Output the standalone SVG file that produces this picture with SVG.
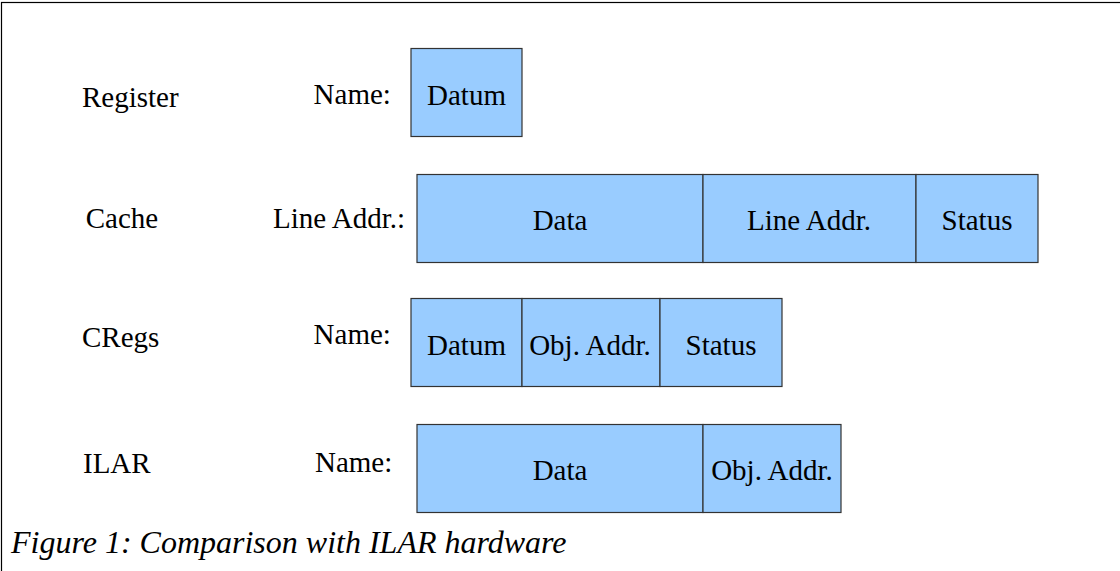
<svg xmlns="http://www.w3.org/2000/svg" width="1120" height="571" viewBox="0 0 1120 571">
<style>
.t{font-family:"Liberation Serif","Times New Roman",serif;font-size:29px;fill:#000}
.c{text-anchor:middle}
.b{fill:#99ccff;stroke:#333333;stroke-width:1.2}
.cap{font-family:"Liberation Serif","Times New Roman",serif;font-size:32px;font-style:italic;fill:#000}
</style>
<rect x="1.5" y="2.5" width="1130" height="590" fill="#ffffff" stroke="#000000" stroke-width="1.2"/>
<g id="register">
<text class="t" x="82" y="107">Register</text>
<text class="t" x="313.6" y="103.5">Name:</text>
<rect class="b" x="411" y="48.5" width="111" height="88"/>
<text class="t c" x="466.5" y="105">Datum</text>
</g>
<g id="cache">
<text class="t" x="85.7" y="228.3">Cache</text>
<text class="t" x="273" y="228">Line Addr.:</text>
<rect class="b" x="417" y="174.5" width="286" height="88"/>
<rect class="b" x="703" y="174.5" width="213" height="88"/>
<rect class="b" x="916" y="174.5" width="122" height="88"/>
<text class="t c" x="560" y="230">Data</text>
<text class="t c" x="809" y="230">Line Addr.</text>
<text class="t c" x="977" y="230">Status</text>
</g>
<g id="cregs">
<text class="t" x="82" y="346.7">CRegs</text>
<text class="t" x="313.6" y="344.3">Name:</text>
<rect class="b" x="411" y="298.5" width="111" height="88"/>
<rect class="b" x="522" y="298.5" width="138" height="88"/>
<rect class="b" x="660" y="298.5" width="122" height="88"/>
<text class="t c" x="466.5" y="354.5">Datum</text>
<text class="t c" x="590" y="354.5">Obj. Addr.</text>
<text class="t c" x="721" y="354.5">Status</text>
</g>
<g id="ilar">
<text class="t" x="83" y="472.7">ILAR</text>
<text class="t" x="315" y="471.7">Name:</text>
<rect class="b" x="417" y="424.5" width="286" height="88"/>
<rect class="b" x="703" y="424.5" width="138" height="88"/>
<text class="t c" x="560" y="480">Data</text>
<text class="t c" x="772" y="480">Obj. Addr.</text>
</g>
<g id="connectors"></g>
<text class="cap" x="11" y="553">Figure 1: Comparison with ILAR hardware</text>
</svg>
